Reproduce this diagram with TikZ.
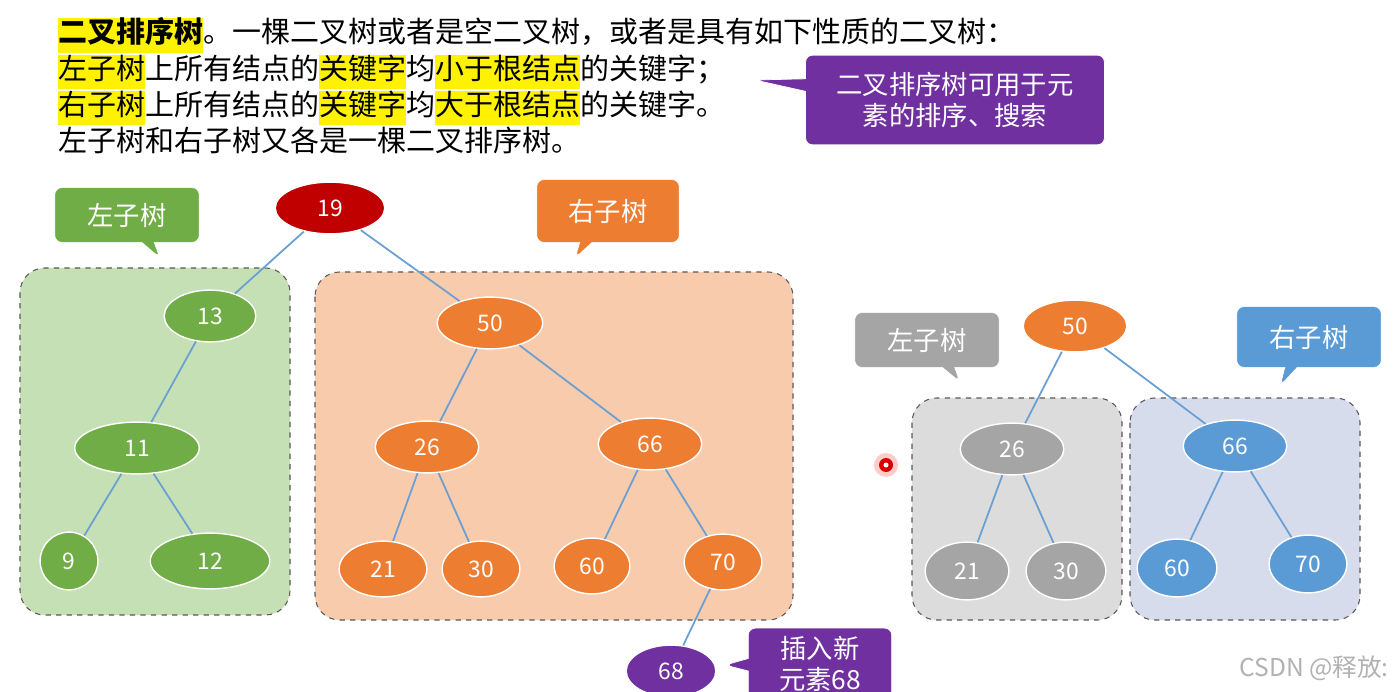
\documentclass[tikz,border=0pt]{standalone}
\usepackage{fontspec}
\setmainfont{Noto Sans CJK SC}
\usetikzlibrary{shapes.callouts,shapes.geometric}
\definecolor{gf}{HTML}{70AD47}\definecolor{gr}{HTML}{C5E0B4}
\definecolor{of}{HTML}{ED7D31}\definecolor{orr}{HTML}{F8CBAD}
\definecolor{df}{HTML}{C00000}\definecolor{pf}{HTML}{7030A0}
\definecolor{yf}{HTML}{A5A5A5}\definecolor{yr}{HTML}{DCDCDC}
\definecolor{bf}{HTML}{5B9BD5}\definecolor{br}{HTML}{D6DCEC}
\definecolor{ln}{HTML}{6A9FD4}
\newcommand{\hlt}[1]{{\setlength\fboxsep{0pt}\colorbox{yellow}{\strut #1}}}
\begin{document}
\begin{tikzpicture}[x=0.02cm,y=-0.02cm,
 nd/.style={ellipse,draw=white,line width=0.8pt,text=white,font=\fontsize{13}{13}\selectfont,inner sep=0pt,minimum height={52*0.567pt}},
 w/.style={minimum width={#1*0.567pt}},
 h/.style={minimum height={#1*0.567pt}},
 reg/.style={draw=gray!70!black,dashed,rounded corners=14pt,line width=0.6pt},
 co/.style={rectangle callout,draw=white,text=white,font=\fontsize{15}{18}\selectfont,rounded corners=4,align=center,inner sep=0pt},
 ed/.style={ln,line width=1pt}]
\useasboundingbox (0,0) rectangle (1395,692);
\fill[white] (0,0) rectangle (1395,692);
\node[anchor=west,font=\fontsize{16.5}{19}\selectfont,align=left,inner sep=0] (txt) at (58,86) {%
\hlt{\textbf{二叉排序树}}。一棵二叉树或者是空二叉树，或者是具有如下性质的二叉树：\\
\hlt{左子树}上所有结点的\hlt{关键字}均\hlt{小于根结点}的关键字；\\
\hlt{右子树}上所有结点的\hlt{关键字}均\hlt{大于根结点}的关键字。\\
左子树和右子树又各是一棵二叉排序树。};
\node[co,fill=pf,w=300,h=90,callout absolute pointer={(755,80)}] (c1) at (955,100) {二叉排序树可用于元\\素的排序、搜索};
\draw[reg,fill=gr] (20,268) rectangle (290,615);
\draw[reg,fill=orr] (315,272) rectangle (793,620);
\draw[reg,fill=yr] (912,398) rectangle (1122,620);
\draw[reg,fill=br] (1130,398) rectangle (1360,620);
\node[co,fill=gf,w=145,h=55,callout absolute pointer={(160,258)}] (cl) at (127,215) {左子树};
\node[co,fill=of,w=143,h=63,callout absolute pointer={(575,258)}] (cr) at (608,211) {右子树};
\node[co,fill=yf,w=145,h=55,callout absolute pointer={(960,382)}] (cl2) at (927,340) {左子树};
\node[co,fill=bf,w=145,h=61,callout absolute pointer={(1280,386)}] (cr2) at (1309,337) {右子树};
\node[co,fill=pf,w=144,h=72,callout absolute pointer={(725,665)}] (c2) at (820,664) {插入新\\元素68};
% left tree
\node[nd,fill=df,w=110] (n19) at (330,208) {19};
\node[nd,fill=gf,w=92] (n13) at (210,316) {13};
\node[nd,fill=gf,w=125] (n11) at (137,448) {11};
\node[nd,fill=gf,w=58,h=58] (n9) at (69,561) {9};
\node[nd,fill=gf,w=120,h=56] (n12) at (210,561) {12};
\node[nd,fill=of,w=106] (n50) at (490,323) {50};
\node[nd,fill=of,w=104] (n26) at (427,447) {26};
\node[nd,fill=of,w=104] (n66) at (650,444) {66};
\node[nd,fill=of,w=88,h=56] (n21) at (383,569) {21};
\node[nd,fill=of,w=78,h=56] (n30) at (481,569) {30};
\node[nd,fill=of,w=76,h=56] (n60) at (592,566) {60};
\node[nd,fill=of,w=78,h=56] (n70) at (723,562) {70};
\node[nd,fill=pf,w=90] (n68) at (671,671) {68};
\foreach \a/\b in {n19/n13,n19/n50,n13/n11,n11/n9,n11/n12,n50/n26,n50/n66,n26/n21,n26/n30,n66/n60,n66/n70,n70/n68}
 \draw[ed] (\a) -- (\b);
% right tree
\node[nd,fill=of,w=104] (m50) at (1075,326) {50};
\node[nd,fill=yf,w=104] (m26) at (1012,449) {26};
\node[nd,fill=bf,w=104] (m66) at (1235,446) {66};
\node[nd,fill=yf,w=84,h=58] (m21) at (967,571) {21};
\node[nd,fill=yf,w=80,h=58] (m30) at (1066,571) {30};
\node[nd,fill=bf,w=80,h=58] (m60) at (1177,568) {60};
\node[nd,fill=bf,w=78,h=58] (m70) at (1308,564) {70};
\foreach \a/\b in {m50/m26,m50/m66,m26/m21,m26/m30,m66/m60,m66/m70}
 \draw[ed] (\a) -- (\b);
\fill[red!20] (886,465) circle (12);
\fill[red!85!black] (886,465) circle (7);
\fill[white] (886,465) circle (2.5);
\node[text=gray!60,font=\fontsize{14}{14}\selectfont,anchor=east] (wm) at (1395,668) {CSDN @释放:};
\end{tikzpicture}
\end{document}
